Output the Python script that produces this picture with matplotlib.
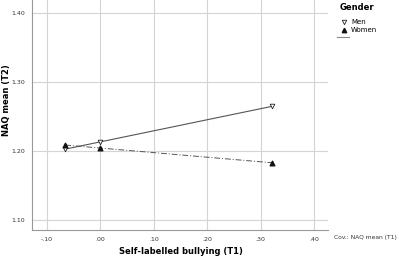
import matplotlib
matplotlib.use("Agg")
import matplotlib.pyplot as plt
import numpy as np
from matplotlib.lines import Line2D

# values
bullying = [-0.066, 0.0, 0.322]
men = [1.203, 1.213, 1.265]
women = [1.209, 1.204, 1.183]
xticks = [-0.10, 0.0, 0.10, 0.20, 0.30, 0.40]
xticklabels = ["-.10", ".00", ".10", ".20", ".30", ".40"]
yticks = [1.10, 1.20, 1.30, 1.40]
yticklabels = ["1.10", "1.20", "1.30", "1.40"]

plt.rcParams['font.family'] = ['DejaVu Sans']
fig = plt.figure(figsize=(4.0, 2.59), dpi=100)
ax = fig.add_axes([32 / 400, 29 / 259, 296 / 400, 230 / 259])

grid_c = "#d4d4d4"
for t in xticks:
    ax.axvline(t, color=grid_c, lw=0.8, zorder=0)
for t in yticks:
    ax.axhline(t, color=grid_c, lw=0.8, zorder=0)

xs = np.array(bullying)
line_x = np.array([xs[0], xs[-1]])
pm = np.polyfit(xs, men, 1)
pw = np.polyfit(xs, women, 1)
ax.plot(line_x, np.polyval(pm, line_x), color="#555555", lw=0.8, zorder=2)
ax.plot(line_x, np.polyval(pw, line_x), color="#555555", lw=0.7,
        dashes=[6, 2, 1, 2], zorder=2)

ax.scatter(bullying, men, marker="v", s=11, facecolor="white",
           edgecolor="#222222", linewidths=0.6, zorder=3)
ax.scatter(bullying, women, marker="^", s=11, color="#111111", zorder=3)

ax.set_xlim(-0.128, 0.426)
ax.set_ylim(1.0855, 1.419)
ax.set_xticks(xticks)
ax.set_xticklabels(xticklabels)
ax.set_yticks(yticks)
ax.set_yticklabels(yticklabels)
ax.tick_params(length=0, labelsize=4.5, colors="#333333", pad=5)
for s in ["top", "right"]:
    ax.spines[s].set_visible(False)
for s in ["left", "bottom"]:
    ax.spines[s].set_color("#999999")
    ax.spines[s].set_linewidth(0.8)

fig.text(181 / 400, 1 - 252 / 259, "Self-labelled bullying (T1)", fontsize=6,
         fontweight="bold", ha="center", va="center")
fig.text(7 / 400, 1 - 100 / 259, "NAQ mean (T2)", fontsize=6,
         fontweight="bold", ha="center", va="center", rotation=90)

fig.text(334 / 400, 1 - 238 / 259, "Cov.: NAQ mean (T1)", fontsize=4.3,
         color="#333333", va="center")

handles = [Line2D([], [], marker="v", ls="none", markersize=3.2,
                  markerfacecolor="white", markeredgecolor="#222222",
                  markeredgewidth=0.6),
           Line2D([], [], marker="^", ls="none", markersize=3.2, color="#111111")]
leg = fig.legend(handles, ["Men", "Women"], loc="upper left",
                 bbox_to_anchor=(337 / 400, 1 - 16 / 259), frameon=False,
                 fontsize=5, handlelength=1.0, handletextpad=0.5,
                 labelspacing=0.25, borderpad=0)
fig.text(340 / 400, 1 - 8 / 259, "Gender", fontsize=6, fontweight="bold",
         va="center")
fig.add_artist(Line2D([337 / 400, 349 / 400], [1 - 37 / 259, 1 - 37 / 259],
                      color="#888888", lw=0.8))

fig.savefig("out.png", dpi=100)
